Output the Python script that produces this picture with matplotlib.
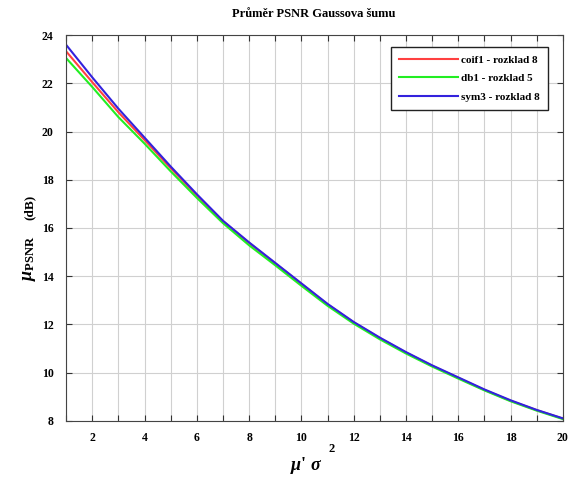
import numpy as np
import matplotlib
matplotlib.use("Agg")
from matplotlib import pyplot as plt

# values
x = np.arange(1, 21)
coif1 = [23.33, 22.05, 20.80, 19.65, 18.48, 17.36, 16.28, 15.38, 14.53, 13.68,
         12.83, 12.08, 11.43, 10.83, 10.28, 9.78, 9.28, 8.83, 8.44, 8.09]
db1 = [23.05, 21.85, 20.60, 19.50, 18.35, 17.25, 16.20, 15.28, 14.45, 13.60,
       12.77, 12.03, 11.38, 10.79, 10.25, 9.75, 9.26, 8.81, 8.42, 8.07]
sym3 = [23.60, 22.25, 20.95, 19.75, 18.55, 17.40, 16.30, 15.40, 14.55, 13.70,
        12.85, 12.10, 11.45, 10.85, 10.30, 9.80, 9.30, 8.85, 8.45, 8.10]
labels = ['coif1 - rozklad 8', 'db1 - rozklad 5', 'sym3 - rozklad 8']
colors = ['#ff4040', '#22ee22', '#3322dd']

plt.rcParams['font.family'] = ['Liberation Serif', 'DejaVu Serif']
plt.rcParams['font.weight'] = 'bold'
plt.rcParams['mathtext.fontset'] = 'custom'
plt.rcParams['mathtext.rm'] = 'Liberation Serif:bold'
plt.rcParams['mathtext.it'] = 'Liberation Serif:italic:bold'
plt.rcParams['mathtext.bf'] = 'Liberation Serif:bold'

W, H = 575, 482
fig = plt.figure(figsize=(5.75, 4.82), dpi=100)
ax = fig.add_axes([0.115, 0.127, 0.864, 0.8])

for ys, lab, c in zip([coif1, db1, sym3], labels, colors):
    ax.plot(x, ys, color=c, lw=1.5, label=lab, solid_joinstyle='round')

ax.set_xlim(1, 20)
ax.set_ylim(8, 24)
ax.set_xticks(np.arange(1, 21))
ax.set_xticklabels([str(v) if v % 2 == 0 else '' for v in range(1, 21)])
ax.set_yticks(np.arange(8, 25, 2))
ax.grid(True, color='#d0d0d0', lw=0.8)
ax.tick_params(direction='in', top=True, right=True, labelsize=8.5, length=4,
               color='#333333')
ax.tick_params(axis='y', pad=9)
ax.tick_params(axis='x', pad=8)
for lab in ax.get_xticklabels() + ax.get_yticklabels():
    lab.set_fontweight('bold')
for s in ax.spines.values():
    s.set_color('#444444')

fig.text(314 / W, 1 - 14 / H, 'Průměr PSNR Gaussova šumu', fontsize=9,
         fontweight='bold', ha='center', va='center')

# x label: mu' sigma with raised 2
fig.text(306 / W, 1 - 466 / H, r"$\mu$' $\sigma$", fontsize=13,
         ha='center', va='center')
fig.text(332 / W, 1 - 449 / H, '2', fontsize=9, fontweight='bold',
         ha='center', va='center')

# y label
fig.text(29 / W, 1 - 258 / H, r"$\mu_{\mathbf{PSNR}}$", fontsize=13,
         rotation=90, ha='center', va='center')
fig.text(30 / W, 1 - 207 / H, '(dB)', fontsize=9.5, fontweight='bold',
         rotation=90, ha='center', va='center')

leg = ax.legend(loc='upper right', bbox_to_anchor=(0.970, 0.969), fontsize=8,
                fancybox=False, edgecolor='#222222', framealpha=1,
                handlelength=5.3, labelspacing=0.8, borderpad=0.7,
                handletextpad=0.3, borderaxespad=0)
leg.get_frame().set_linewidth(1.0)

fig.savefig('out.png', dpi=100)
